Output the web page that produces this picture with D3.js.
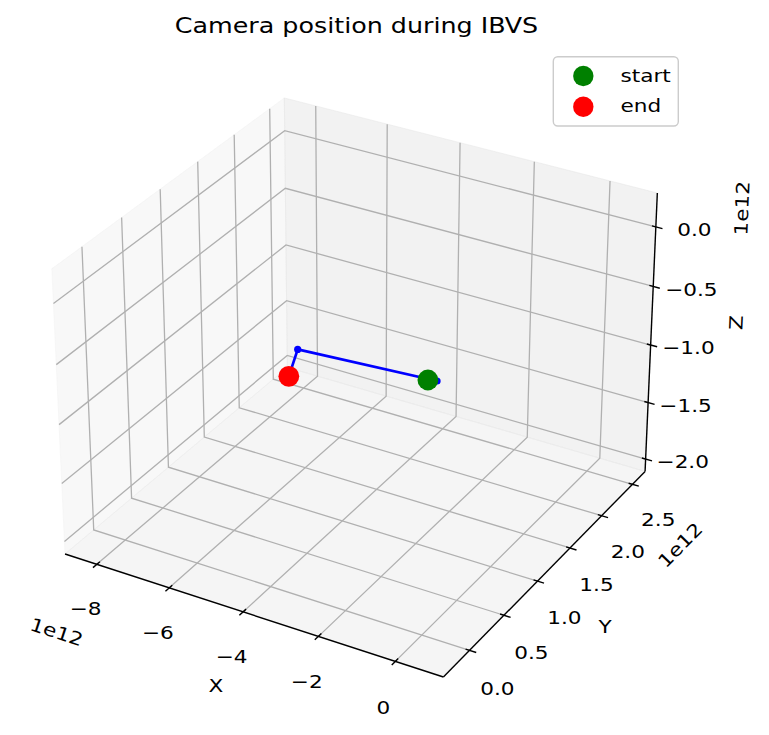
<!DOCTYPE html>
<html><head><meta charset="utf-8">
<script src="https://cdn.jsdelivr.net/npm/d3@7"></script>
<style>
body{margin:0;background:#fff}
svg{display:block}
text{font-family:"DejaVu Sans",sans-serif;fill:#000}
</style>
</head><body>
<svg id="chart" width="769" height="735"></svg>
<script>
// ---- data (camera trajectory, metres) ----
const posX = [0.09e12, 0.73e12, -8.30e12, -8.31e12];
const posY = [0.00e12, -0.23e12, 2.57e12, 2.44e12];
const posZ = [0.00e12, 0.17e12, -1.82e12, -2.00e12];

// ---- axis limits & ticks ----
const xLim = [-8.89e12, 1.23e12];
const yLim = [-0.37e12, 2.71e12];
const zLim = [-2.11e12, 0.28e12];
const xTicks = [-8e12, -6e12, -4e12, -2e12, 0];
const xTickLabels = ["\u22128", "\u22126", "\u22124", "\u22122", "0"];
const yTicks = [0, 0.5e12, 1.0e12, 1.5e12, 2.0e12, 2.5e12];
const yTickLabels = ["0.0", "0.5", "1.0", "1.5", "2.0", "2.5"];
const zTicks = [-2.0e12, -1.5e12, -1.0e12, -0.5e12, 0];
const zTickLabels = ["\u22122.0", "\u22121.5", "\u22121.0", "\u22120.5", "0.0"];
const legendLabels = ["start", "end"];
const legendColors = ["green", "red"];
const titleText = "Camera position during IBVS";

// ---- projection (matplotlib-style perspective, elev 30, azim -60) ----
const box = [8/7, 8/7, 6/7];
const nx = d3.scaleLinear().domain(xLim).range([0, box[0]]);
const ny = d3.scaleLinear().domain(yLim).range([0, box[1]]);
const nz = d3.scaleLinear().domain(zLim).range([0, box[2]]);
const el = 30 * Math.PI / 180, az = -60 * Math.PI / 180, dist = 10;
const w = [Math.cos(el) * Math.cos(az), Math.cos(el) * Math.sin(az), Math.sin(el)];
const eye = box.map((b, i) => b / 2 + dist * w[i]);
const cross = (a, b) => [a[1]*b[2]-a[2]*b[1], a[2]*b[0]-a[0]*b[2], a[0]*b[1]-a[1]*b[0]];
const dot = (a, b) => a[0]*b[0] + a[1]*b[1] + a[2]*b[2];
let u = cross([0, 0, 1], w); const un = Math.hypot(u[0], u[1], u[2]); u = u.map(c => c / un);
const v = cross(w, u);
const K = 3794, CX = 360.2, CY = 374.1;
const sx = d3.scaleLinear().domain([0, 1]).range([CX, CX + K]);
const sy = d3.scaleLinear().domain([0, 1]).range([CY, CY - K]);
function proj(x, y, z) {
  const p = [nx(x) - eye[0], ny(y) - eye[1], nz(z) - eye[2]];
  const dw = -dot(w, p);
  return [sx(dot(u, p) / dw), sy(dot(v, p) / dw)];
}
const dX = xLim[1] - xLim[0], dY = yLim[1] - yLim[0], dZ = zLim[1] - zLim[0];

const svg = d3.select("#chart");
const SX = 1.18; // horizontal text stretch of the reference
function label(g, str, x, y, size, opts = {}) {
  const rot = opts.rotate || 0;
  const anchor = opts.anchor || "middle";
  const dy = opts.baseline ? 0 : 0.3645 * size;
  return g.append("text")
    .attr("transform", `translate(${x},${y}) rotate(${rot}) scale(${SX},1)`)
    .attr("y", dy)
    .attr("text-anchor", anchor)
    .attr("font-size", size)
    .text(str);
}
const lineGen = d3.line();

// ---- panes ----
const panes = [
  {c: [[xLim[0],yLim[0],zLim[0]],[xLim[0],yLim[1],zLim[0]],[xLim[0],yLim[1],zLim[1]],[xLim[0],yLim[0],zLim[1]]], g: 0.95},
  {c: [[xLim[0],yLim[1],zLim[0]],[xLim[1],yLim[1],zLim[0]],[xLim[1],yLim[1],zLim[1]],[xLim[0],yLim[1],zLim[1]]], g: 0.90},
  {c: [[xLim[0],yLim[0],zLim[0]],[xLim[1],yLim[0],zLim[0]],[xLim[1],yLim[1],zLim[0]],[xLim[0],yLim[1],zLim[0]]], g: 0.925}
];
svg.append("g").selectAll("path").data(panes).join("path")
  .attr("d", p => lineGen(p.c.map(c => proj(...c))) + "Z")
  .attr("fill", p => d3.rgb(p.g*255, p.g*255, p.g*255))
  .attr("fill-opacity", 0.5)
  .attr("stroke", p => d3.rgb(p.g*255, p.g*255, p.g*255))
  .attr("stroke-opacity", 0.5)
  .attr("stroke-width", 1);

// ---- grid ----
const grid = [];
xTicks.forEach(t => grid.push([[t,yLim[0],zLim[0]],[t,yLim[1],zLim[0]],[t,yLim[1],zLim[1]]]));
yTicks.forEach(t => grid.push([[xLim[1],t,zLim[0]],[xLim[0],t,zLim[0]],[xLim[0],t,zLim[1]]]));
zTicks.forEach(t => grid.push([[xLim[0],yLim[0],t],[xLim[0],yLim[1],t],[xLim[1],yLim[1],t]]));
svg.append("g").selectAll("path").data(grid).join("path")
  .attr("d", g => lineGen(g.map(c => proj(...c))))
  .attr("fill", "none").attr("stroke", "#b0b0b0").attr("stroke-width", 1.3);

// ---- axis lines ----
const axes = [
  [[xLim[0],yLim[0],zLim[0]],[xLim[1],yLim[0],zLim[0]]],
  [[xLim[1],yLim[0],zLim[0]],[xLim[1],yLim[1],zLim[0]]],
  [[xLim[1],yLim[1],zLim[0]],[xLim[1],yLim[1],zLim[1]]]
];
svg.append("g").selectAll("path").data(axes).join("path")
  .attr("d", a => lineGen(a.map(c => proj(...c))))
  .attr("fill", "none").attr("stroke", "#000").attr("stroke-width", 1.4);

// ---- ticks ----
const ticks = [];
xTicks.forEach(t => ticks.push([[t, yLim[0] + 0.013*dY, zLim[0]], [t, yLim[0] - 0.016*dY, zLim[0]]]));
yTicks.forEach(t => ticks.push([[xLim[1] - 0.010*dX, t, zLim[0]], [xLim[1] + 0.017*dX, t, zLim[0]]]));
zTicks.forEach(t => ticks.push([[xLim[1] - 0.010*dX, yLim[1], t], [xLim[1] + 0.017*dX, yLim[1], t]]));
svg.append("g").selectAll("path").data(ticks).join("path")
  .attr("d", a => lineGen(a.map(c => proj(...c))))
  .attr("fill", "none").attr("stroke", "#000").attr("stroke-width", 1.4);

// ---- tick labels ----
const tl = svg.append("g");
const FS = 18.3;
xTicks.forEach((t, i) => {
  const p = proj(t, yLim[0] - 0.0526*dY, zLim[0] - 0.121*dZ);
  label(tl, xTickLabels[i], p[0], p[1], FS);
});
yTicks.forEach((t, i) => {
  const p = proj(xLim[1] + 0.0717*dX, t, zLim[0] - 0.1018*dZ);
  label(tl, yTickLabels[i], p[0], p[1], FS);
});
zTicks.forEach((t, i) => {
  const p = proj(xLim[1] + 0.0821*dX, yLim[1] + 0.0337*dY, t);
  label(tl, zTickLabels[i], p[0], p[1], FS);
});

// axis labels & offset texts
const angle = (a, b) => { const p = proj(...a), q = proj(...b); return Math.atan2(q[1]-p[1], q[0]-p[0]) * 180 / Math.PI; };
const angX = angle(axes[0][0], axes[0][1]);
const angY = angle(axes[1][0], axes[1][1]);
const angZ = angle(axes[2][0], axes[2][1]);
label(tl, "X", 216, 685.7, FS);
label(tl, "Y", 605, 626.7, FS);
label(tl, "Z", 736, 322.7, FS, {rotate: angZ});
label(tl, "1e12", 56.7, 631.7, FS, {rotate: angX});
label(tl, "1e12", 680, 545, FS, {rotate: angY});
label(tl, "1e12", 741.7, 208.3, FS, {rotate: angZ});

// ---- trajectory ----
const pts = posX.map((x, i) => proj(x, posY[i], posZ[i]));
const dg = svg.append("g");
dg.append("path").attr("d", lineGen(pts)).attr("fill", "none")
  .attr("stroke", "blue").attr("stroke-width", 2.7).attr("stroke-linejoin", "round");
dg.selectAll("circle.pt").data(pts).join("circle").attr("class", "pt")
  .attr("cx", d => d[0]).attr("cy", d => d[1]).attr("r", 3.6).attr("fill", "blue");
const ends = [pts[0], pts[pts.length - 1]];
dg.selectAll("circle.se").data(ends).join("circle").attr("class", "se")
  .attr("cx", d => d[0]).attr("cy", d => d[1]).attr("r", 10.4)
  .attr("fill", (d, i) => legendColors[i]);

// ---- title ----
label(svg, titleText, 356.5, 33.3, 21.5, {baseline: true});

// ---- legend ----
const lg = svg.append("g");
lg.append("rect").attr("x", 553.3).attr("y", 56.7).attr("width", 125).attr("height", 69.3)
  .attr("rx", 4.5).attr("fill", "#fff").attr("fill-opacity", 0.8)
  .attr("stroke", "#cccccc").attr("stroke-width", 1.4);
legendLabels.forEach((s, i) => {
  const yc = 76 + i * 30.7;
  lg.append("circle").attr("cx", 583.3).attr("cy", yc).attr("r", 10.2).attr("fill", legendColors[i]);
  label(lg, s, 620.5, yc + 5.7, FS, {anchor: "start", baseline: true});
});
</script>
</body></html>
